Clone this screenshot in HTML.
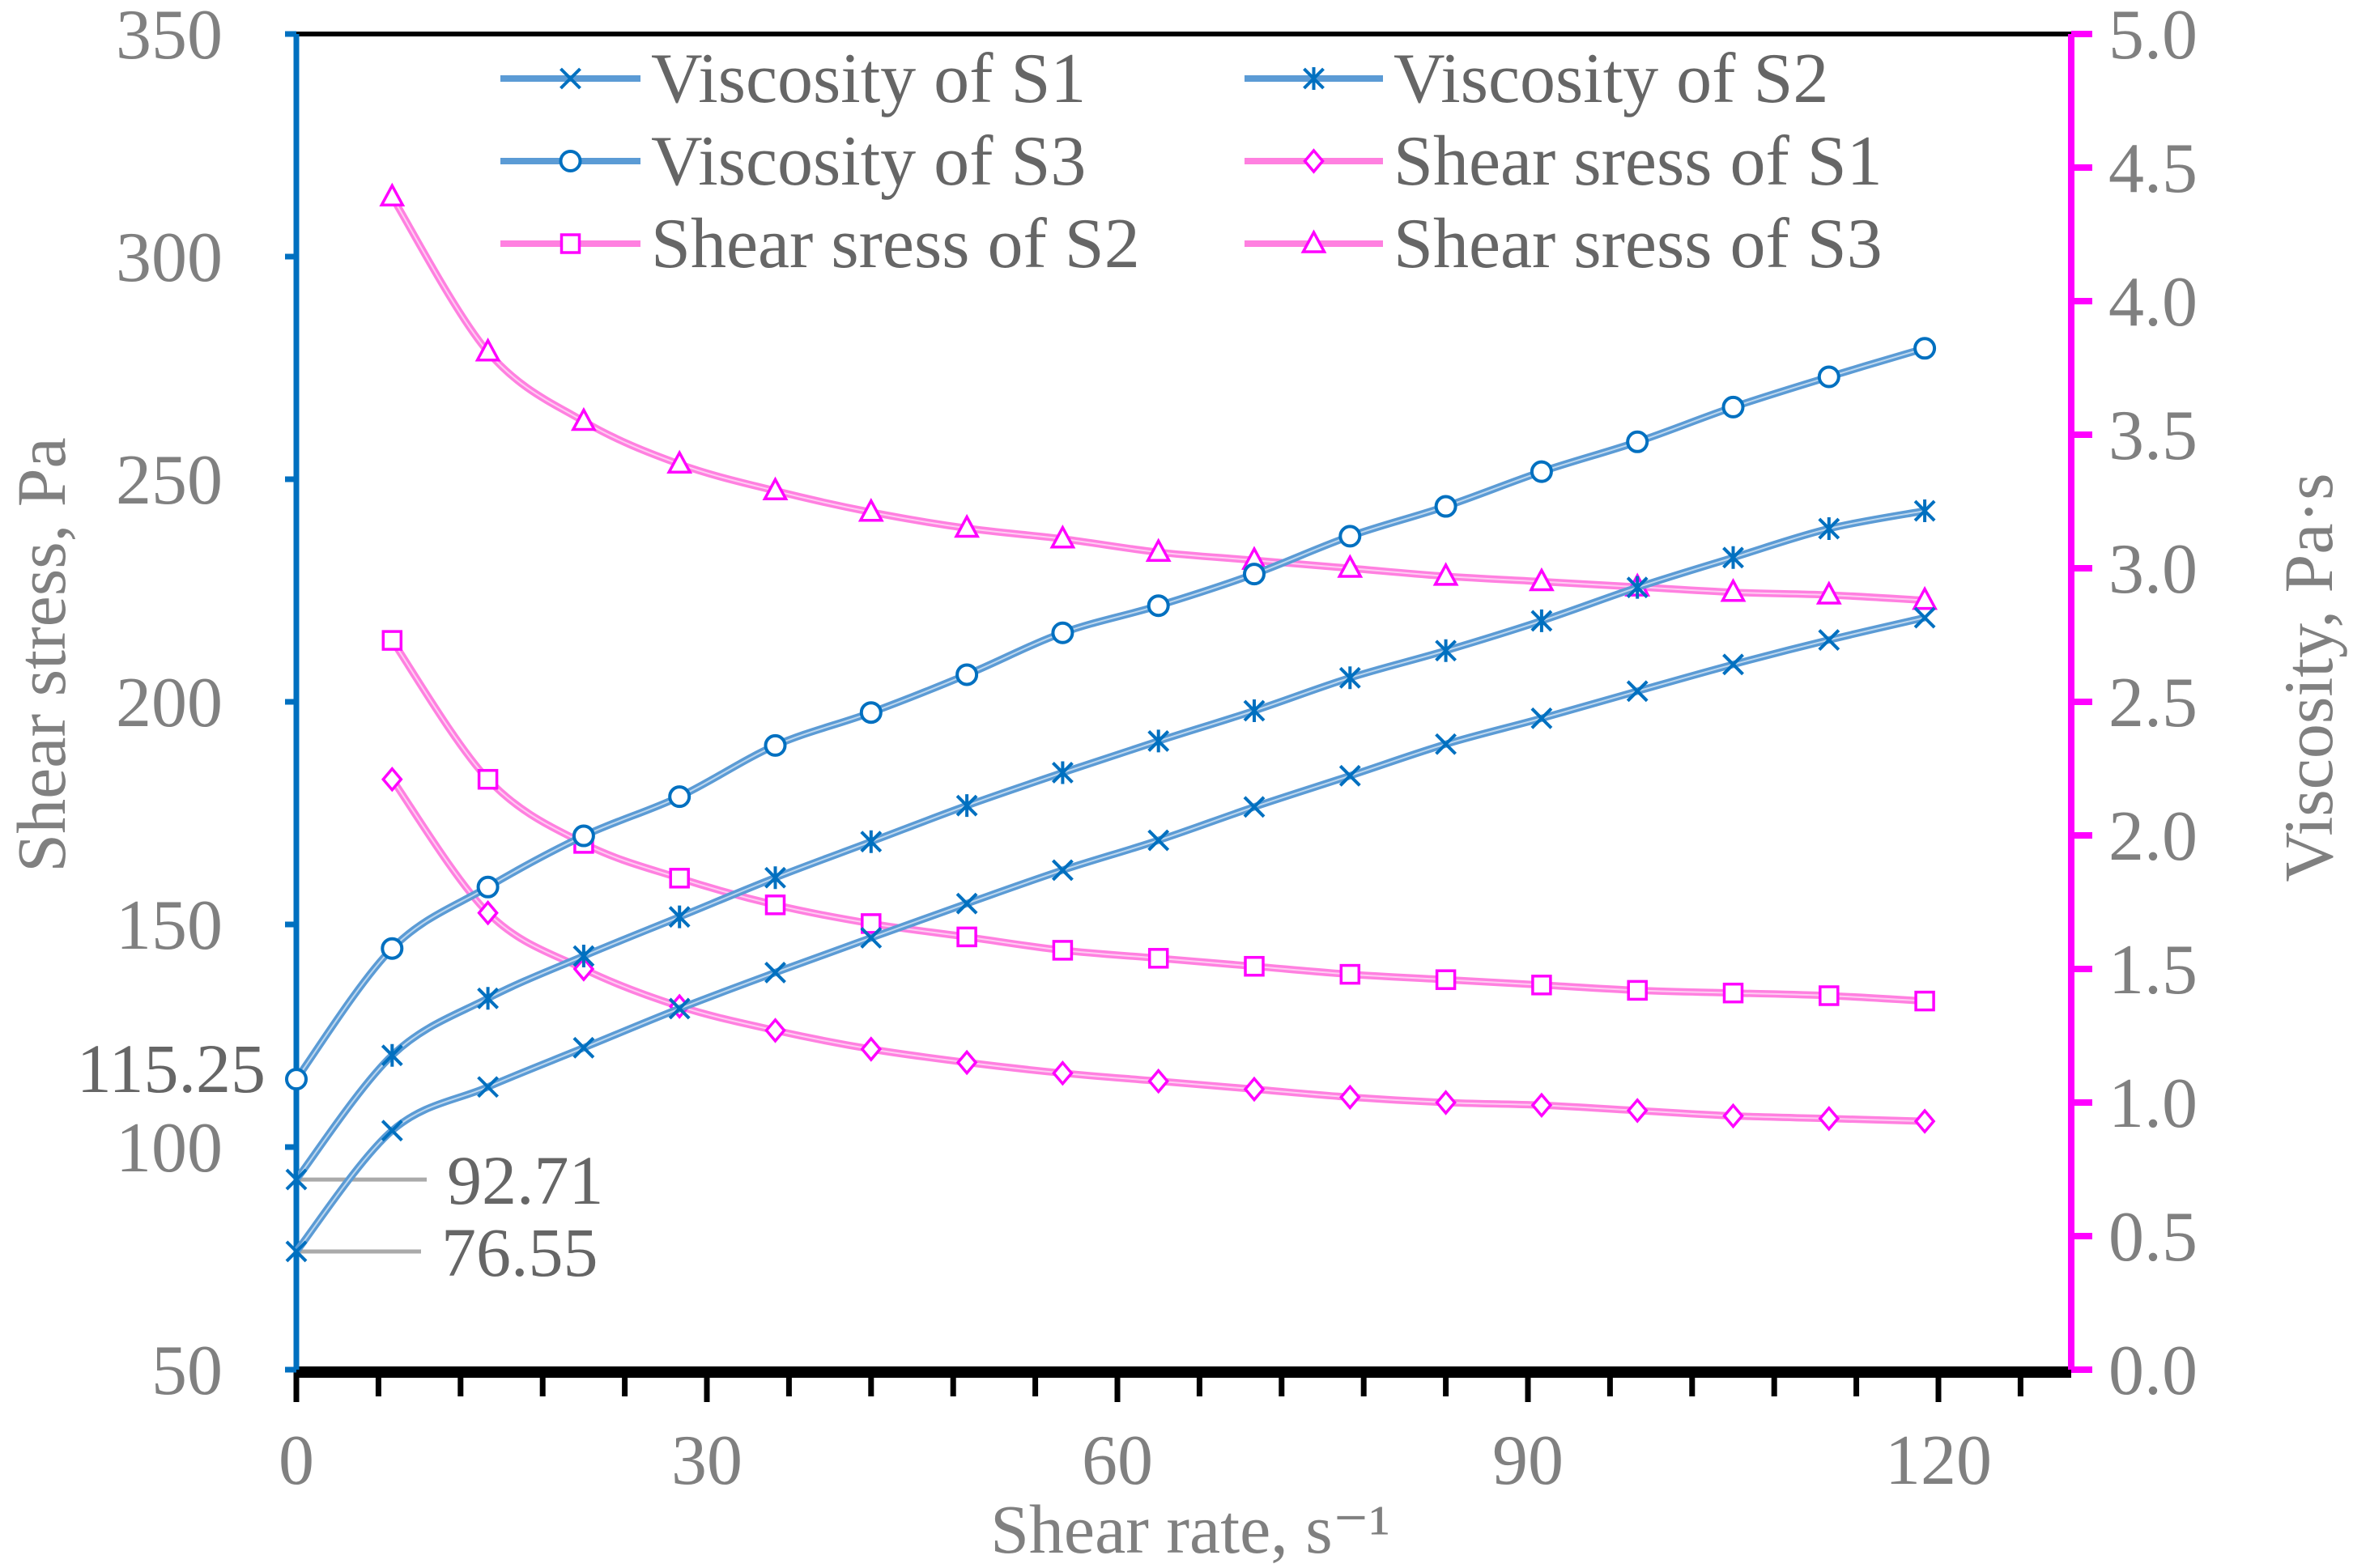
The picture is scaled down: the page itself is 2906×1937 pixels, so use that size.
<!DOCTYPE html>
<html><head><meta charset="utf-8"><style>
html,body{margin:0;padding:0;background:#fff;}
svg{display:block;font-family:"Liberation Serif",serif;}
</style></head><body>
<svg id="chart" width="2906" height="1937" viewBox="0 0 2906 1937" xmlns="http://www.w3.org/2000/svg"></svg>
<script>
const shearRates=[0,7,14,21,28,35,42,49,56,63,70,77,84,91,98,105,112,119];
const viscS1=[76.55,103.7,113.5,122.3,131.1,139.2,147.0,154.7,162.2,168.9,176.4,183.4,190.5,196.3,202.4,208.4,213.9,218.9];
const viscS2=[92.71,120.6,133.4,142.9,151.7,160.5,168.6,176.7,184.1,191.2,198.0,205.4,211.5,218.2,225.7,232.4,238.9,242.9];
const viscS3=[115.25,144.6,158.4,169.9,178.7,190.2,197.6,206.1,215.5,221.6,228.7,237.2,243.9,251.7,258.4,266.2,273.0,279.4];
const stressRates=[7,14,21,28,35,42,49,56,63,70,77,84,91,98,105,112,119];
const stressS1=[2.21,1.71,1.50,1.36,1.27,1.20,1.15,1.11,1.08,1.05,1.02,1.00,0.99,0.97,0.95,0.94,0.93];
const stressS2=[2.73,2.21,1.97,1.84,1.74,1.67,1.62,1.57,1.54,1.51,1.48,1.46,1.44,1.42,1.41,1.40,1.38];
const stressS3=[4.39,3.81,3.55,3.39,3.29,3.21,3.15,3.11,3.06,3.03,3.00,2.97,2.95,2.93,2.91,2.90,2.88];
const xTicks=[0,30,60,90,120];
const leftTicks=[50,100,150,200,250,300,350];
const rightTicks=["0.0","0.5","1.0","1.5","2.0","2.5","3.0","3.5","4.0","4.5","5.0"];

const L=366,R=2558,T=42,B=1692;
const sx=v=>L+v*16.9;
const syL=v=>B-(v-50)*(B-T)/300;
const syR=v=>B-v*(B-T)/5;
const svg=document.getElementById('chart');
const NS='http://www.w3.org/2000/svg';
function el(tag,attrs,parent){const e=document.createElementNS(NS,tag);for(const k in attrs)e.setAttribute(k,attrs[k]);(parent||svg).appendChild(e);return e;}
function txt(s,attrs,parent){const e=el('text',attrs,parent);e.textContent=s;return e;}
function smooth(pts){let d=`M${pts[0][0]},${pts[0][1]}`;for(let i=0;i<pts.length-1;i++){const p0=pts[Math.max(i-1,0)],p1=pts[i],p2=pts[i+1],p3=pts[Math.min(i+2,pts.length-1)];const c1=[p1[0]+(p2[0]-p0[0])/6,p1[1]+(p2[1]-p0[1])/6],c2=[p2[0]-(p3[0]-p1[0])/6,p2[1]-(p3[1]-p1[1])/6];d+=` C${c1[0]},${c1[1]} ${c2[0]},${c2[1]} ${p2[0]},${p2[1]}`;}return d;}
function marker(g,type,x,y,color){
  const s=12;
  if(type==='x'){el('path',{d:`M${x-s},${y-s}L${x+s},${y+s}M${x-s},${y+s}L${x+s},${y-s}`,stroke:color,'stroke-width':4,fill:'none'},g);}
  else if(type==='star'){el('path',{d:`M${x-s},${y-s}L${x+s},${y+s}M${x-s},${y+s}L${x+s},${y-s}M${x},${y-s-2}L${x},${y+s+2}`,stroke:color,'stroke-width':4,fill:'none'},g);}
  else if(type==='circle'){el('circle',{cx:x,cy:y,r:12,stroke:color,'stroke-width':4,fill:'#fff'},g);}
  else if(type==='diamond'){el('path',{d:`M${x},${y-13}L${x+11},${y}L${x},${y+13}L${x-11},${y}Z`,stroke:color,'stroke-width':3.5,fill:'#fff'},g);}
  else if(type==='square'){el('rect',{x:x-11,y:y-11,width:22,height:22,stroke:color,'stroke-width':3.5,fill:'#fff'},g);}
  else if(type==='tri'){el('path',{d:`M${x},${y-14}L${x+13},${y+10}L${x-13},${y+10}Z`,stroke:color,'stroke-width':3.5,fill:'#fff'},g);}
}
function series(name,xs,ys,scale,type,line,mk){
  const g=el('g',{});
  
  
  const pts=xs.map((v,i)=>[sx(v),scale(ys[i])]);
  const d=smooth(pts);
  el('path',{d:d,stroke:line,'stroke-width':9,fill:'none'},g);
  el('path',{d:d,stroke:'#fff','stroke-width':2,fill:'none','stroke-opacity':0.6},g);
  pts.forEach(p=>marker(g,type,p[0],p[1],mk));
}
el('line',{x1:L,y1:T,x2:R,y2:T,stroke:'#000','stroke-width':6});
const xa=el('g',{});
el('line',{x1:L,y1:B+3,x2:R,y2:B+3,stroke:'#000','stroke-width':14},xa);
for(let v=0;v<=126;v+=6){const major=v%30===0;el('line',{x1:sx(v),y1:B,x2:sx(v),y2:B+(major?40:33),stroke:'#000','stroke-width':7},xa);}
xTicks.forEach(v=>txt(String(v),{x:sx(v),y:1833,'text-anchor':'middle','font-size':88,fill:'#808080'},xa));
txt('Shear rate, s\u207B\u00B9',{x:1470,y:1918,'text-anchor':'middle','font-size':86,fill:'#808080'});
const la=el('g',{});
el('line',{x1:L,y1:T,x2:L,y2:B,stroke:'#0070c0','stroke-width':7},la);
leftTicks.forEach(v=>{el('line',{x1:L-14,y1:syL(v),x2:L,y2:syL(v),stroke:'#0070c0','stroke-width':7},la);txt(String(v),{x:275,y:syL(v)+30,'text-anchor':'end','font-size':88,fill:'#808080'},la);});
const lt=txt('Shear stress, Pa',{x:0,y:0,'text-anchor':'middle','font-size':86,fill:'#808080',transform:'translate(80,809) rotate(-90)'});

const ra=el('g',{});
el('line',{x1:R,y1:T,x2:R,y2:B,stroke:'#ff00ff','stroke-width':8},ra);
rightTicks.forEach(s=>{const v=parseFloat(s);el('line',{x1:R,y1:syR(v),x2:R+26,y2:syR(v),stroke:'#ff00ff','stroke-width':8},ra);txt(s,{x:2604,y:syR(v)+30,'text-anchor':'start','font-size':88,fill:'#808080'},ra);});
const rt=txt('Viscosity, Pa\u00B7s',{x:0,y:0,'text-anchor':'middle','font-size':86,fill:'#808080',transform:'translate(2880,837) rotate(-90)'});

const an=el('g',{});
el('line',{x1:sx(0),y1:syL(92.71),x2:527,y2:syL(92.71),stroke:'#aaa','stroke-width':5},an);
el('line',{x1:sx(0),y1:syL(76.55),x2:520,y2:syL(76.55),stroke:'#aaa','stroke-width':5},an);
txt('92.71',{x:552,y:syL(92.71)+30,'font-size':86,fill:'#666'},an);
txt('76.55',{x:545,y:syL(76.55)+30,'font-size':86,fill:'#666'},an);
txt('115.25',{x:328,y:syL(115.25)+16,'text-anchor':'end','font-size':86,fill:'#666'},an);
series('shear-stress-s3',stressRates,stressS3,syR,'tri','#ff80e0','#ff00ff');
series('shear-stress-s2',stressRates,stressS2,syR,'square','#ff80e0','#ff00ff');
series('shear-stress-s1',stressRates,stressS1,syR,'diamond','#ff80e0','#ff00ff');
series('viscosity-s3',shearRates,viscS3,syL,'circle','#5b9bd5','#0070c0');
series('viscosity-s2',shearRates,viscS2,syL,'star','#5b9bd5','#0070c0');
series('viscosity-s1',shearRates,viscS1,syL,'x','#5b9bd5','#0070c0');
const lg=el('g',{});
const items=[['Viscosity of S1','x',0,0,'#5b9bd5','#0070c0'],['Viscosity of S2','star',1,0,'#5b9bd5','#0070c0'],['Viscosity of S3','circle',0,1,'#5b9bd5','#0070c0'],['Shear sress of S1','diamond',1,1,'#ff80e0','#ff00ff'],['Shear sress of S2','square',0,2,'#ff80e0','#ff00ff'],['Shear sress of S3','tri',1,2,'#ff80e0','#ff00ff']];
items.forEach(it=>{const g=el('g',{},lg);
const x0=it[2]?1537:618,x1=it[2]?1708:791,y=97+it[3]*102;
el('line',{x1:x0,y1:y,x2:x1,y2:y,stroke:it[4],'stroke-width':8},g);
marker(g,it[1],(x0+x1)/2,y,it[5]);
txt(it[0],{x:x1+13,y:y+29,'font-size':88,fill:'#666'},g);});
</script>
</body></html>
